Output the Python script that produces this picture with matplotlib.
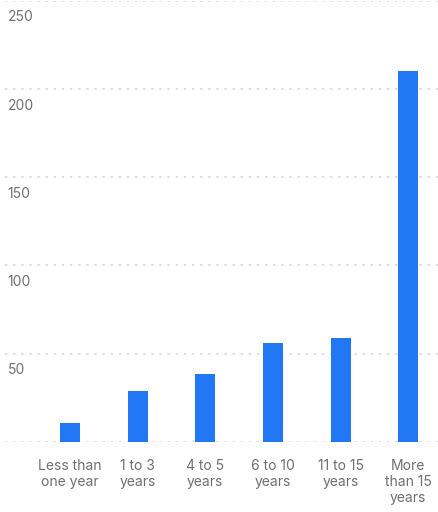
import matplotlib
matplotlib.use("Agg")
import matplotlib.pyplot as plt

# years of experience buckets and respondent counts
categories = ["Less than\none year", "1 to 3\nyears", "4 to 5\nyears",
              "6 to 10\nyears", "11 to 15\nyears", "More\nthan 15\nyears"]
counts = [11, 29, 38.5, 56, 59, 210]
y_ticks = [50, 100, 150, 200, 250]

plt.rcParams['font.family'] = ['Inter', 'DejaVu Sans']
text_color = '#707070'

fig = plt.figure(figsize=(4.38, 5.12), dpi=100)
ax = fig.add_axes([5 / 438, 1 - 442 / 512, 433 / 438, 441.5 / 512])

x = list(range(len(categories)))
ax.bar(x, counts, width=0.296, color='#2277f5', zorder=3)

ax.set_xlim(-0.96, 5.44)
ax.set_ylim(0, 250)

# dotted gridlines, including the baseline
for v in [0] + y_ticks:
    ax.axhline(v, color='#dcdcdc', linewidth=1.3, dashes=(1.3, 3.2), zorder=1)

# y labels sit just under each gridline at the left edge
for v in y_ticks:
    ax.annotate(str(v), xy=(0, v), xycoords=('axes fraction', 'data'),
                xytext=(2, -7), textcoords='offset points',
                ha='left', va='top', fontsize=10, color=text_color)

ax.set_xticks(x)
ax.set_xticklabels(categories, fontsize=10, color=text_color, linespacing=1.18)
ax.tick_params(axis='x', length=0, pad=12.5)
ax.set_yticks([])
for s in ax.spines.values():
    s.set_visible(False)

fig.savefig("out.png", dpi=100)
